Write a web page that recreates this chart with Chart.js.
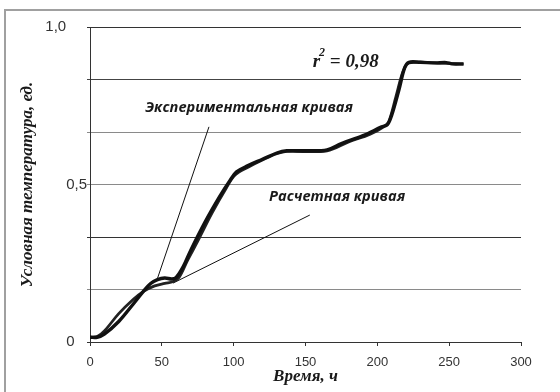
<!DOCTYPE html>
<html>
<head>
<meta charset="utf-8">
<script src="https://cdn.jsdelivr.net/npm/chart.js@4"></script>
<style>
  html, body { margin: 0; padding: 0; background: #fff; }
  #wrap { position: relative; width: 560px; height: 392px; }
</style>
</head>
<body>
<div id="wrap"><canvas id="mainChart" width="560" height="392"></canvas></div>
<script>
// measured curve (Экспериментальная кривая)
const expTime = [0, 5, 10, 20, 30, 37, 42, 47, 52, 57, 60, 65, 70, 80, 90, 97, 102, 110, 120, 130, 137, 150, 165, 175, 190, 203, 207, 210, 215, 219, 222, 230, 240, 248, 252, 260];
const expTemp = [0.015, 0.015, 0.025, 0.065, 0.12, 0.16, 0.185, 0.198, 0.203, 0.2, 0.205, 0.24, 0.29, 0.38, 0.46, 0.51, 0.54, 0.56, 0.58, 0.6, 0.607, 0.607, 0.61, 0.63, 0.655, 0.683, 0.69, 0.72, 0.8, 0.87, 0.888, 0.888, 0.886, 0.887, 0.883, 0.883];

// calculated curve (Расчетная кривая)
const calcTime = [0, 5, 10, 20, 30, 37, 45, 52, 58, 62, 68, 75, 85, 95, 101, 110, 120, 130, 137, 165, 180, 195, 205, 208, 213, 218, 222, 245, 260];
const calcTemp = [0.015, 0.017, 0.035, 0.09, 0.135, 0.16, 0.178, 0.186, 0.192, 0.205, 0.26, 0.32, 0.41, 0.49, 0.53, 0.555, 0.578, 0.598, 0.605, 0.607, 0.635, 0.66, 0.685, 0.7, 0.78, 0.86, 0.886, 0.885, 0.882];

// leader lines from the captions to the curves
const expLeaderX = [82.8, 46.6];
const expLeaderY = [0.683, 0.197];
const calcLeaderX = [57.8, 153];
const calcLeaderY = [0.187, 0.403];

const yTickValues = [0, 1/6, 2/6, 3/6, 4/6, 5/6, 1];
const yTickLabels = ['0   ', '', '', '0,5', '', '', '1,0     '];
const yGridColors = ['#333', '#8a8a8a', '#333', '#8a8a8a', '#8a8a8a', '#444', '#333'];
const xTickStep = 50;

const toPts = (xs, ys) => xs.map((x, i) => ({x: x, y: ys[i]}));

const frameAndLabels = {
    id: 'frameAndLabels',
    beforeDraw: (chart) => {
        const ctx = chart.ctx; ctx.save();
        ctx.fillStyle = '#fff'; ctx.fillRect(0, 0, chart.width, chart.height);
        ctx.strokeStyle = '#a0a0a0'; ctx.lineWidth = 2;
        ctx.strokeRect(5, 10, 620, 420);
        ctx.restore();
    },
    afterDatasetsDraw: (chart) => {
        const ctx = chart.ctx, sx = chart.scales.x, sy = chart.scales.y;
        ctx.save();
        ctx.fillStyle = '#1a1a1a';
        ctx.textBaseline = 'middle';
        ctx.textAlign = 'center';
        ctx.font = "italic bold 14.6px 'Open Sans', sans-serif";
        ctx.fillText('Экспериментальная кривая', sx.getPixelForValue(110.7), sy.getPixelForValue(0.743));
        ctx.fillText('Расчетная кривая', sx.getPixelForValue(172), sy.getPixelForValue(0.46));
        // r^2 = 0,98
        let px = sx.getPixelForValue(155), py = sy.getPixelForValue(0.889);
        ctx.textAlign = 'left';
        ctx.font = "italic bold 19px 'Liberation Serif', serif";
        ctx.fillText('r', px, py);
        px += ctx.measureText('r').width;
        ctx.font = "italic bold 12px 'Liberation Serif', serif";
        ctx.fillText('2', px - 1, py - 9);
        px += ctx.measureText('2').width - 1;
        ctx.font = "italic bold 19px 'Liberation Serif', serif";
        ctx.fillText(' = 0,98', px, py);
        ctx.restore();
    }
};

window.mainChart = new Chart(document.getElementById('mainChart'), {
    type: 'line',
    data: {
        datasets: [
            {label: 'Экспериментальная кривая', data: toPts(expTime, expTemp), borderColor: '#111', borderWidth: 3.4, pointRadius: 0, tension: 0.35},
            {label: 'Расчетная кривая', data: toPts(calcTime, calcTemp), borderColor: '#222', borderWidth: 2.8, pointRadius: 0, tension: 0.35},
            {label: 'exp-leader', data: toPts(expLeaderX, expLeaderY), borderColor: '#111', borderWidth: 1, pointRadius: 0},
            {label: 'calc-leader', data: toPts(calcLeaderX, calcLeaderY), borderColor: '#111', borderWidth: 1, pointRadius: 0}
        ]
    },
    options: {
        responsive: false,
        animation: false,
        layout: { padding: { left: 5, right: 39, top: 27, bottom: 0 } },
        scales: {
            x: {
                type: 'linear', min: 0, max: 300,
                ticks: { stepSize: xTickStep, color: '#333', font: { size: 13, family: "'Liberation Sans', Arial, sans-serif" }, padding: 9, maxRotation: 0 },
                grid: { drawOnChartArea: false, drawTicks: true, tickLength: 4, color: '#333' },
                border: { color: '#333', width: 1 },
                title: { display: true, text: 'Время, ч', color: '#1a1a1a', padding: { top: 0, bottom: 5 },
                         font: { size: 17, weight: 'bold', style: 'italic', family: "'Liberation Serif', serif" } },
                afterFit: (s) => { s.height = 50; }
            },
            y: {
                min: 0, max: 1,
                afterBuildTicks: (s) => { s.ticks = yTickValues.map(v => ({value: v})); },
                ticks: { autoSkip: false, padding: 0, color: '#333', font: { size: 15, family: "'Liberation Sans', Arial, sans-serif" },
                         callback: (v, i) => yTickLabels[i] },
                grid: { color: (c) => yGridColors[c.index] || '#333', tickLength: 3, lineWidth: 1 },
                border: { color: '#333', width: 1 },
                title: { display: true, text: 'Условная температура, ед.', color: '#1a1a1a', padding: { top: 12, bottom: 0 },
                         font: { size: 17, weight: 'bold', style: 'italic', family: "'Liberation Serif', serif" } },
                afterFit: (s) => { s.width = 85; }
            }
        },
        plugins: { legend: { display: false }, tooltip: { enabled: false } }
    },
    plugins: [frameAndLabels]
});
</script>
</body>
</html>
